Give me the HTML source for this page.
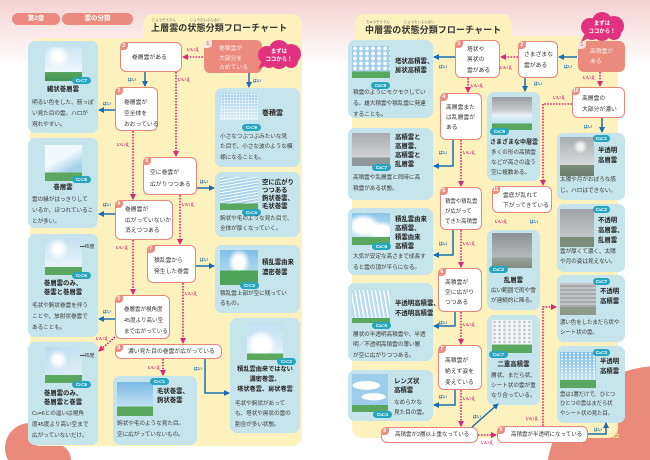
<!DOCTYPE html>
<html><head><meta charset="utf-8"><style>
*{margin:0;padding:0}
html,body{background:#fff;width:650px;height:460px;overflow:hidden}
body{font-family:"Liberation Sans","Noto Sans CJK JP",sans-serif}
#root{position:relative;width:650px;height:460px;overflow:hidden;background:#fff}
.a{position:absolute}
.y{position:absolute;background:#fdf2bd}
.card{position:absolute;background:#c6e4eb;border-radius:7px}
.card>*{position:absolute}
.bd{background:#27a6bd;color:#fff;font-size:4.6px;font-weight:bold;border-radius:4px;height:7px;line-height:7px;width:19px;text-align:center;white-space:nowrap}
.bd span{font-size:3.2px}
.tt{font-weight:bold;font-size:6.4px;line-height:9px;color:#222;white-space:nowrap}
.ct{font-size:5.7px;line-height:10.5px;color:#3a3a3a;white-space:nowrap;letter-spacing:-0.1px}
.node{position:absolute;background:#fff;border:1.2px solid #e5877b;border-radius:6px;box-sizing:border-box;font-size:5.8px;color:#333;white-space:nowrap}
.node.s{background:#ea8b7d;border-color:#ea8b7d;color:#fdeeea}
.tx{position:absolute}
.num{position:absolute;left:-1.2px;top:-1.2px;width:8px;height:8px;background:#ec8e82;color:#fff;font-size:5px;font-weight:bold;border-radius:5px 0 4px 0;text-align:center;line-height:8px}
.s .num{background:#fbe3de;color:#e07a6c}
.pill{position:absolute;background:#eb8b7f;color:#fff;font-size:6.5px;font-weight:bold;text-align:center;line-height:12px;height:12px;border-radius:6px}
.fur{position:absolute;font-size:3.4px;color:#666;white-space:nowrap}
.title{position:absolute;font-size:9px;font-weight:bold;color:#333;white-space:nowrap;letter-spacing:0.1px}
</style></head><body><div id="root">

<svg class="a" style="left:0;top:0" width="650" height="460" viewBox="0 0 650 460">
<defs><linearGradient id="tg" x1="0" y1="0" x2="0" y2="1"><stop offset="0" stop-color="#f4d2d1"/><stop offset="0.37" stop-color="#f8e4e3"/><stop offset="1" stop-color="#ffffff"/></linearGradient></defs>
<rect x="0" y="0" width="650" height="68" fill="url(#tg)"/>
<path d="M547.8,460 A114,114 0 0,1 650,366.4 L650,460 Z" fill="#ea8a7b"/>
<path d="M8.1,460 A25,25 0 1,1 51.9,460 Z" fill="#ea8a7b"/>
<path d="M39,460 A16,16 0 0,1 71,460 Z" fill="#ea8a7b"/>
</svg>

<!-- header pills -->
<div class="pill" style="left:12px;top:13px;width:48px">第2章</div>
<div class="pill" style="left:62px;top:13px;width:71px">雲の分類</div>

<!-- yellow panels -->
<div class="y" style="left:30px;top:38px;width:272px;height:408px;border-radius:10px"></div>
<div class="y" style="left:143px;top:14px;width:159px;height:40px;border-radius:10px 10px 0 0"></div>
<div class="y" style="left:352px;top:36px;width:266px;height:402px;border-radius:10px"></div>
<div class="y" style="left:355px;top:14px;width:157px;height:40px;border-radius:10px 10px 0 0"></div>

<!-- titles -->
<div class="fur" style="left:152px;top:17px">じょうそううん</div>
<div class="fur" style="left:190px;top:17px">じょうたいぶんるい</div>
<div class="title" style="left:151px;top:21px">上層雲の状態分類フローチャート</div>
<div class="fur" style="left:366px;top:19px">ちゅうそううん</div>
<div class="fur" style="left:404px;top:19px">じょうたいぶんるい</div>
<div class="title" style="left:365px;top:23px">中層雲の状態分類フローチャート</div>

<div class="a" style="left:612px;top:433px;font-size:6.5px;font-weight:bold;color:#f7e19a;line-height:8px">52</div>

<!-- ===== LEFT CARDS ===== -->
<div class="card" style="left:28px;top:41px;width:70px;height:92px">
 <div style="left:17px;top:6px;width:37px;height:34px;background:radial-gradient(circle at 35% 28%,#fff 0,#fff 12%,rgba(255,255,255,0) 35%),linear-gradient(#cde5f3,#eef7fb 74%,#5aa860 74%,#3f9350)"></div>
 <div class="bd" style="left:44px;top:36px">C<span>H</span>=7</div>
 <div class="tt" style="left:0;width:70px;text-align:center;top:44px">繊状巻層雲</div>
 <div class="ct" style="left:4px;top:56.5px;line-height:11px">明るい色をした、筋っぽ<br>い見た目の雲。ハロが<br>現れやすい。</div>
</div>
<div class="card" style="left:28px;top:138px;width:70px;height:90px">
 <div style="left:17px;top:7px;width:37px;height:36px;background:linear-gradient(transparent 76%,#5aa860 76%),linear-gradient(150deg,#f2f9fc 40%,#a6d1ea 70%)"></div>
 <div class="bd" style="left:44px;top:38px">C<span>H</span>=8</div>
 <div class="tt" style="left:0;width:70px;text-align:center;top:44.5px">巻層雲</div>
 <div class="ct" style="left:4px;top:56.5px;line-height:11px">雲の縁がはっきりして<br>いるか、ほつれているこ<br>とが多い。</div>
</div>
<div class="card" style="left:28px;top:234px;width:70px;height:103px">
 <div style="left:17px;top:4px;width:37px;height:37px;background:radial-gradient(circle at 35% 30%,#fff 0,#fff 10%,rgba(255,255,255,0) 32%),linear-gradient(#c4e0f0,#eaf5fa 78%,#5aa860 78%)"></div>
 <div style="left:52px;top:12px;width:4px;height:0.8px;background:#444"></div>
 <div style="left:56px;top:9px;font-size:5px;color:#333">45度</div>
 <div class="bd" style="left:44px;top:38px">C<span>H</span>=6</div>
 <div class="tt" style="left:0;width:70px;text-align:center;top:44.5px">巻層雲のみ、<br>巻雲と巻層雲</div>
 <div class="ct" style="left:4px;top:66.5px;line-height:11px">毛状や鉤状巻雲を伴う<br>ことや、放射状巻雲で<br>あることも。</div>
</div>
<div class="card" style="left:28px;top:342px;width:70px;height:103px">
 <div style="left:17px;top:5px;width:37px;height:36px;background:linear-gradient(transparent 78%,#5aa860 78%),radial-gradient(circle at 35% 35%,#fff 10%,rgba(255,255,255,0) 30%),linear-gradient(160deg,#b8dbef,#e9f4fa)"></div>
 <div style="left:52px;top:13px;width:4px;height:0.8px;background:#444"></div>
 <div style="left:56px;top:10px;font-size:5px;color:#333">45度</div>
 <div class="bd" style="left:44px;top:39px">C<span>H</span>=5</div>
 <div class="tt" style="left:0;width:70px;text-align:center;top:46.5px">巻層雲のみ、<br>巻層雲と巻雲</div>
 <div class="ct" style="left:4px;top:66.5px;line-height:11px">C<span style="font-size:3.5px">H</span>=6との違いは視角<br>度45度より高い空まで<br>広がっていないだけ。</div>
</div>

<div class="card" style="left:215px;top:88px;width:85px;height:79px">
 <div style="left:5px;top:5px;width:38px;height:27px;background:radial-gradient(circle,#fff 30%,rgba(255,255,255,0) 45%) 0 0/3px 3px,linear-gradient(#a9d3ec,#d9edf8)"></div>
 <div class="bd" style="left:27px;top:36px">C<span>H</span>=9</div>
 <div class="tt" style="left:47px;top:20.5px;font-size:7px">巻積雲</div>
 <div class="ct" style="left:5px;top:43.75px">小さなつぶつぶみたいな見<br>た目で、小さな波のような模<br>様になることも。</div>
</div>
<div class="card" style="left:215px;top:172px;width:85px;height:65px">
 <div style="left:5px;top:5px;width:38px;height:33px;background:linear-gradient(transparent 80%,#5aa860 80%),repeating-linear-gradient(170deg,#fff 0 1px,#a9d3ec 1px 3px)"></div>
 <div class="bd" style="left:27px;top:37px">C<span>H</span>=4</div>
 <div class="tt" style="left:47px;top:7px;line-height:8px">空に広がり<br>つつある<br>鉤状巻雲、<br>毛状巻雲</div>
 <div class="ct" style="left:5px;top:42px;line-height:10px">鉤状や毛のような見た目で、<br>全体が厚くなっていく。</div>
</div>
<div class="card" style="left:215px;top:245px;width:85px;height:68px">
 <div style="left:5px;top:5px;width:38px;height:35px;background:linear-gradient(transparent 58%,#4ea25a 58%),radial-gradient(ellipse at 50% 35%,#fff 20%,rgba(255,255,255,0) 42%),linear-gradient(#7fc0e6,#cde7f4)"></div>
 <div class="bd" style="left:25px;top:37px">C<span>H</span>=3</div>
 <div class="tt" style="left:47px;top:13px;line-height:10px">積乱雲由来<br>濃密巻雲</div>
 <div class="ct" style="left:5px;top:43.75px">積乱雲上部が空に残ってい<br>るもの。</div>
</div>
<div class="card" style="left:230px;top:318px;width:70px;height:115px">
 <div style="left:17px;top:5px;width:36px;height:37px;background:linear-gradient(transparent 82%,#5aa860 82%),radial-gradient(ellipse at 40% 60%,#fff 25%,rgba(255,255,255,0) 50%),linear-gradient(#bfdff0,#eaf5fb)"></div>
 <div class="bd" style="left:47px;top:40px">C<span>H</span>=2</div>
 <div class="tt" style="left:0;width:70px;text-align:center;top:47px;line-height:10px;font-size:6.2px">積乱雲由来ではない<br>濃密巻雲、<br>塔状巻雲、房状巻雲</div>
 <div class="ct" style="left:5px;top:80.75px">毛状や鉤状があって<br>も、塔状や房状の雲の<br>割合が多い状態。</div>
</div>
<div class="card" style="left:113px;top:376px;width:84px;height:69px">
 <div style="left:4px;top:6px;width:36px;height:34px;background:linear-gradient(transparent 72%,#5aa860 72%),linear-gradient(#7ab9e4,#dff0f9)"></div>
 <div class="bd" style="left:37px;top:2px">C<span>H</span>=1</div>
 <div class="tt" style="left:44px;top:10.5px">毛状巻雲、<br>鉤状巻雲</div>
 <div class="ct" style="left:4px;top:42.5px;line-height:11px">鉤状や毛のような見た目。<br>空に広がっていないもの。</div>
</div>

<!-- ===== RIGHT CARDS ===== -->
<div class="card" style="left:348px;top:40px;width:85px;height:78px">
 <div style="left:4px;top:6px;width:38px;height:32px;background:linear-gradient(transparent 80%,#5aa860 80%),radial-gradient(circle,#fff 40%,rgba(255,255,255,0) 55%) 0 0/6px 5px,#a2cfe9"></div>
 <div class="bd" style="left:23px;top:42px">C<span>M</span>=8</div>
 <div class="tt" style="left:47px;top:16.5px">塔状高積雲、<br>房状高積雲</div>
 <div class="ct" style="left:5px;top:47.5px;line-height:11px">積雲のようにモクモクしてい<br>る。雄大積雲や積乱雲に発達<br>することも。</div>
</div>
<div class="card" style="left:348px;top:128px;width:85px;height:72px">
 <div style="left:4px;top:5px;width:38px;height:33px;background:linear-gradient(#a6aaad,#d2d4d5 75%,#8e989a 75%)"></div>
 <div class="bd" style="left:24px;top:36px">C<span>M</span>=7</div>
 <div class="tt" style="left:47px;top:4.5px">高積雲と<br>高層雲、<br>高積雲と<br>乱層雲</div>
 <div class="ct" style="left:5px;top:44.5px;line-height:11px">高積雲や乱層雲と同時に高<br>積雲がある状態。</div>
</div>
<div class="card" style="left:348px;top:208px;width:85px;height:67px">
 <div style="left:4px;top:5px;width:38px;height:32px;background:linear-gradient(transparent 75%,#5aa860 75%),radial-gradient(ellipse at 30% 40%,#fff 25%,rgba(255,255,255,0) 45%),radial-gradient(ellipse at 75% 55%,#fff 20%,rgba(255,255,255,0) 40%),linear-gradient(#8cc6e8,#d6ecf7)"></div>
 <div class="bd" style="left:24px;top:35px">C<span>M</span>=6</div>
 <div class="tt" style="left:47px;top:6.5px">積乱雲由来<br>高積雲、<br>積雲由来<br>高積雲</div>
 <div class="ct" style="left:5px;top:43.5px;line-height:11px">大気が安定な高さまで成長す<br>ると雲の頂が平らになる。</div>
</div>
<div class="card" style="left:348px;top:283px;width:85px;height:78px">
 <div style="left:4px;top:7px;width:38px;height:33px;background:linear-gradient(transparent 85%,#5aa860 85%),repeating-linear-gradient(80deg,#fff 0 1.5px,#b7dbef 1.5px 4px)"></div>
 <div class="bd" style="left:24px;top:39px">C<span>M</span>=5</div>
 <div class="tt" style="left:47px;top:16px;line-height:10px">半透明高積雲、<br>不透明高積雲</div>
 <div class="ct" style="left:5px;top:46.75px">層状の半透明高積雲や、半透<br>明／不透明高積雲の薄い層<br>が空に広がりつつある。</div>
</div>
<div class="card" style="left:348px;top:370px;width:85px;height:51px">
 <div style="left:4px;top:4px;width:36px;height:38px;background:linear-gradient(transparent 82%,#5aa860 82%),radial-gradient(ellipse 40% 12% at 40% 30%,#fff 90%,rgba(255,255,255,0) 100%),radial-gradient(ellipse 35% 10% at 60% 60%,#fff 90%,rgba(255,255,255,0) 100%),#9dcde9"></div>
 <div class="bd" style="left:25px;top:41px">C<span>M</span>=4</div>
 <div class="tt" style="left:46px;top:6.5px">レンズ状<br>高積雲</div>
 <div class="ct" style="left:46px;top:28px;line-height:10px">なめらかな<br>見た目の雲。</div>
</div>

<div class="card" style="left:487px;top:92px;width:53px;height:89px">
 <div style="left:5px;top:5px;width:40px;height:33px;background:linear-gradient(transparent 80%,#5aa860 80%),linear-gradient(#9a9ea1 0,#c9cccd 40%,#e8f3f8 55%,#bfe0f0 80%)"></div>
 <div class="bd" style="left:3px;top:36px">C<span>M</span>=9</div>
 <div class="tt" style="left:3px;top:46.5px;font-size:6px">さまざまな中層雲</div>
 <div class="ct" style="left:4px;top:56px;line-height:10px">多くの形の高積雲<br>などが高さの違う<br>空に複数ある。</div>
</div>
<div class="card" style="left:487px;top:230px;width:53px;height:80px">
 <div style="left:5px;top:3px;width:40px;height:35px;background:linear-gradient(#8d9194,#b7babc 70%,#9aa29a 70%,#7f8a80)"></div>
 <div class="bd" style="left:2px;top:36px">C<span>M</span>=2</div>
 <div class="tt" style="left:0;width:53px;text-align:center;top:45.5px">乱層雲</div>
 <div class="ct" style="left:4px;top:56px;line-height:10px">広い範囲で雨や雪<br>が連続的に降る。</div>
</div>
<div class="card" style="left:487px;top:315px;width:53px;height:90px">
 <div style="left:5px;top:5px;width:40px;height:33px;background:linear-gradient(transparent 75%,#5aa860 75%),radial-gradient(circle,#c3c8cc 35%,rgba(255,255,255,0) 50%) 0 0/5px 4px,#f4f6f7"></div>
 <div class="bd" style="left:2px;top:36px">C<span>M</span>=7</div>
 <div class="tt" style="left:0;width:53px;text-align:center;top:44.5px">二重高積雲</div>
 <div class="ct" style="left:4px;top:56px;line-height:10px">層状、まだら状、<br>シート状の雲が重<br>なり合っている。</div>
</div>

<div class="card" style="left:557px;top:133px;width:68px;height:67px">
 <div style="left:3px;top:4px;width:34px;height:39px;background:radial-gradient(circle at 60% 25%,#f2f2f2 8%,rgba(255,255,255,0) 20%),linear-gradient(#a8adaf,#d9dbdb 72%,#7d8d7c 72%,#6d7c6c)"></div>
 <div class="bd" style="left:36px;top:2px;width:17px">C<span>M</span>=1</div>
 <div class="tt" style="left:41px;top:13px;line-height:10px">半透明<br>高層雲</div>
 <div class="ct" style="left:3px;top:41.5px;line-height:11px">太陽や月がおぼろな感<br>じ。ハロはできない。</div>
</div>
<div class="card" style="left:557px;top:204px;width:68px;height:68px">
 <div style="left:3px;top:5px;width:34px;height:38px;background:linear-gradient(#9ea2a5,#c5c8ca 74%,#7d8b7a 74%)"></div>
 <div class="bd" style="left:36px;top:2px;width:17px">C<span>M</span>=2</div>
 <div class="tt" style="left:41px;top:12px;line-height:10px">不透明<br>高層雲、<br>乱層雲</div>
 <div class="ct" style="left:3px;top:43px;line-height:10px">雲が厚くて濃く、太陽<br>や月の姿は見えない。</div>
</div>
<div class="card" style="left:557px;top:275px;width:68px;height:67px">
 <div style="left:3px;top:8px;width:36px;height:32px;background:linear-gradient(transparent 75%,#8d9a88 75%),repeating-linear-gradient(0deg,#a5a9ac 0 2px,#c2c5c7 2px 4px)"></div>
 <div class="bd" style="left:36px;top:3px;width:17px">C<span>M</span>=7</div>
 <div class="tt" style="left:43px;top:12px;line-height:10px">不透明<br>高積雲</div>
 <div class="ct" style="left:3px;top:43px;line-height:10px;font-size:5.5px">濃い色をしたまだら状や<br>シート状の雲。</div>
</div>
<div class="card" style="left:557px;top:346px;width:68px;height:77px">
 <div style="left:3px;top:6px;width:36px;height:36px;background:linear-gradient(transparent 78%,#5aa860 78%),radial-gradient(circle,#fff 30%,rgba(255,255,255,0) 45%) 0 0/4px 3px,linear-gradient(#7bbde6,#d0e9f6)"></div>
 <div class="bd" style="left:36px;top:3px;width:17px">C<span>M</span>=3</div>
 <div class="tt" style="left:43px;top:11px;line-height:10px">半透明<br>高積雲</div>
 <div class="ct" style="left:3px;top:44.5px;line-height:9.5px;font-size:5.4px">雲は1層だけで、ひとつ<br>ひとつの雲はまだら状<br>やシート状の見た目。</div>
</div>

<!-- ===== LEFT NODES ===== -->
<div class="node s" style="left:204px;top:40px;width:58px;height:33px"><div class="num">1</div><div class="tx" style="left:14px;top:4px;line-height:9.5px">巻積雲が<br>大部分を<br>占めている</div></div>
<div class="node" style="left:120px;top:42px;width:62px;height:30px"><div class="num">2</div><div class="tx" style="left:11px;top:10px;line-height:10px">巻層雲がある</div></div>
<div class="node" style="left:115px;top:87px;width:43px;height:44px"><div class="num">3</div><div class="tx" style="left:8px;top:9.5px;line-height:11px">巻層雲が<br>空全体を<br>おおっている</div></div>
<div class="node" style="left:143px;top:157px;width:54px;height:38px"><div class="num">6</div><div class="tx" style="left:6px;top:9px;line-height:12px">空に巻雲が<br>広がりつつある</div></div>
<div class="node" style="left:115px;top:200px;width:58px;height:40px"><div class="num">4</div><div class="tx" style="left:9px;top:4px;line-height:10.5px">巻層雲が<br>広がっていないか<br>消えつつある</div></div>
<div class="node" style="left:147px;top:245px;width:49px;height:38px"><div class="num">7</div><div class="tx" style="left:6px;top:9.5px;line-height:11px">積乱雲から<br>発生した巻雲</div></div>
<div class="node" style="left:115px;top:295px;width:55px;height:44px"><div class="num">5</div><div class="tx" style="left:8px;top:8.5px;line-height:11px;font-size:5.5px">巻層雲が視角度<br>45度より高い空<br>まで広がっている</div></div>
<div class="node" style="left:115px;top:344px;width:107px;height:15px"><div class="num">8</div><div class="tx" style="left:12px;top:1.5px;line-height:10px">濃い見た目の巻雲が広がっている</div></div>

<!-- ===== RIGHT NODES ===== -->
<div class="node s" style="left:578px;top:41px;width:47px;height:31px"><div class="num">1</div><div class="tx" style="left:11px;top:5px;line-height:10px">高積雲が<br>ある</div></div>
<div class="node" style="left:518px;top:41px;width:40px;height:37px"><div class="num">2</div><div class="tx" style="left:5px;top:7.5px;line-height:11px">さまざまな<br>雲がある</div></div>
<div class="node" style="left:455px;top:40px;width:45px;height:38px"><div class="num">3</div><div class="tx" style="left:11px;top:3.5px;line-height:10.5px">塔状や<br>房状の<br>雲がある</div></div>
<div class="node" style="left:440px;top:93px;width:42px;height:47px"><div class="num">4</div><div class="tx" style="left:5px;top:9px;line-height:10px">高層雲また<br>は乱層雲が<br>ある</div></div>
<div class="node" style="left:440px;top:187px;width:42px;height:43px"><div class="num">5</div><div class="tx" style="left:4px;top:9px;line-height:10px;font-size:5.4px">積雲や積乱雲<br>が広がって<br>できた高積雲</div></div>
<div class="node" style="left:438px;top:268px;width:44px;height:44px"><div class="num">6</div><div class="tx" style="left:6px;top:9px;line-height:10px">高積雲が<br>空に広がり<br>つつある</div></div>
<div class="node" style="left:438px;top:345px;width:44px;height:45px"><div class="num">7</div><div class="tx" style="left:6px;top:9.5px;line-height:11px">高積雲が<br>絶えず姿を<br>変えている</div></div>
<div class="node" style="left:381px;top:427px;width:97px;height:16px"><div class="num">8</div><div class="tx" style="left:13px;top:2px;line-height:10px;font-size:5.5px">高積雲が2層以上重なっている</div></div>
<div class="node" style="left:497px;top:426px;width:91px;height:17px"><div class="num">9</div><div class="tx" style="left:13px;top:2.5px;line-height:10px;font-size:5.5px">高積雲が半透明になっている</div></div>
<div class="node" style="left:572px;top:87px;width:53px;height:31px"><div class="num">10</div><div class="tx" style="left:9px;top:5.5px;line-height:11px">高層雲の<br>大部分が濃い</div></div>
<div class="node" style="left:492px;top:186px;width:60px;height:27px"><div class="num">11</div><div class="tx" style="left:10px;top:4px;line-height:10px">雲底が乱れて<br>下がってきている</div></div>

<!-- ===== CONNECTORS ===== -->
<svg class="a" style="left:0;top:0" width="650" height="460" viewBox="0 0 650 460">
<defs>
<marker id="ab" markerWidth="6" markerHeight="6" refX="5" refY="3" orient="auto" markerUnits="userSpaceOnUse"><path d="M0,0 L6,3 L0,6 z" fill="#1b6cb3"/></marker>
<marker id="am" markerWidth="6" markerHeight="6" refX="5" refY="3" orient="auto" markerUnits="userSpaceOnUse"><path d="M0,0 L6,3 L0,6 z" fill="#d8287a"/></marker>
</defs>
<g fill="none" stroke="#1b6cb3" stroke-width="1.5" marker-end="url(#ab)">
<path d="M145,72 V86"/><path d="M115,110 H99"/><path d="M249,73 V87"/><path d="M197,188 H214"/>
<path d="M115,214 H99"/><path d="M196,266 H214"/><path d="M115,319 H99"/><path d="M205,359 V393 H229"/>
<path d="M577,57 H559"/><path d="M525,78 V91"/><path d="M455,57 H434"/><path d="M602,118 V132"/>
<path d="M453,140 V166 H434"/><path d="M453,230 V255 H434"/><path d="M455,312 V326 H434"/><path d="M455,390 V405 H434"/>
<path d="M472,427 L498,404"/><path d="M588,434 H606 V423"/>
</g>
<g fill="none" stroke="#d8287a" stroke-width="1.6" stroke-dasharray="1.6 1.3" marker-end="url(#am)">
<path d="M203,57 H183"/><path d="M133,131 V199"/><path d="M176,72 V156"/><path d="M180,195 V244"/>
<path d="M133,240 V294"/><path d="M183,283 V343"/><path d="M115,337 L99,351"/><path d="M163,359 V375"/>
<path d="M518,57 H501"/><path d="M468,78 V92"/><path d="M600,72 V86"/><path d="M572,104 H543 V185"/>
<path d="M461,140 V186"/><path d="M461,230 V267"/><path d="M461,312 V344"/><path d="M461,390 V426"/>
<path d="M478,435 H496"/><path d="M543,426 V307 H556"/>
</g>
<g font-family="Liberation Sans, Noto Sans CJK JP, sans-serif" font-size="4.2" font-weight="bold" text-anchor="middle">
<g fill="#1b6cb3">
<text x="132" y="81">はい</text><text x="107" y="105">はい</text><text x="257" y="82">はい</text><text x="204" y="183">はい</text>
<text x="107" y="206">はい</text><text x="204" y="261">はい</text><text x="107" y="313">はい</text><text x="198" y="370">はい</text>
<text x="568" y="68">はい</text><text x="538" y="85">はい</text><text x="443" y="68">はい</text><text x="588" y="128">はい</text>
<text x="443" y="154">はい</text><text x="443" y="245">はい</text><text x="443" y="324">はい</text><text x="443" y="398">はい</text>
<text x="477" y="418">はい</text><text x="598" y="431">はい</text><text x="534" y="223">はい</text>
</g>
<g fill="#d8287a">
<text x="193" y="51">いいえ</text><text x="123" y="146">いいえ</text><text x="184" y="81">いいえ</text><text x="188" y="206">いいえ</text>
<text x="122" y="249">いいえ</text><text x="191" y="295">いいえ</text><text x="102" y="340">いいえ</text><text x="154" y="369">いいえ</text>
<text x="506" y="69">いいえ</text><text x="477" y="87">いいえ</text><text x="589" y="79">いいえ</text><text x="559" y="99">いいえ</text>
<text x="469" y="154">いいえ</text><text x="469" y="245">いいえ</text><text x="469" y="326">いいえ</text><text x="469" y="400">いいえ</text>
<text x="487" y="444">いいえ</text><text x="532" y="420">いいえ</text><text x="501" y="223">いいえ</text>
</g>
</g>
<!-- start bubbles -->
<g fill="#e2327f" transform="translate(257,41)">
<circle cx="10" cy="14" r="9"/><circle cx="22" cy="9" r="10"/><circle cx="34" cy="13" r="10"/><circle cx="22" cy="19" r="9"/><circle cx="12" cy="20" r="7"/><circle cx="34" cy="20" r="7"/>
<polygon points="6,18 13,23 1,28"/>
</g>
<g fill="#e2327f" transform="translate(580,13)">
<circle cx="10" cy="14" r="9"/><circle cx="22" cy="9" r="10"/><circle cx="34" cy="13" r="10"/><circle cx="22" cy="19" r="9"/><circle cx="12" cy="20" r="7"/><circle cx="34" cy="20" r="7"/>
<polygon points="6,18 13,23 1,29"/>
</g>
<g font-family="Liberation Sans, Noto Sans CJK JP, sans-serif" font-size="5.4" font-weight="bold" fill="#fff" text-anchor="middle">
<text x="279" y="53">まずは</text><text x="279" y="61">ココから！</text>
<text x="602" y="25">まずは</text><text x="602" y="33">ココから！</text>
</g>
</svg>
</div></body></html>
